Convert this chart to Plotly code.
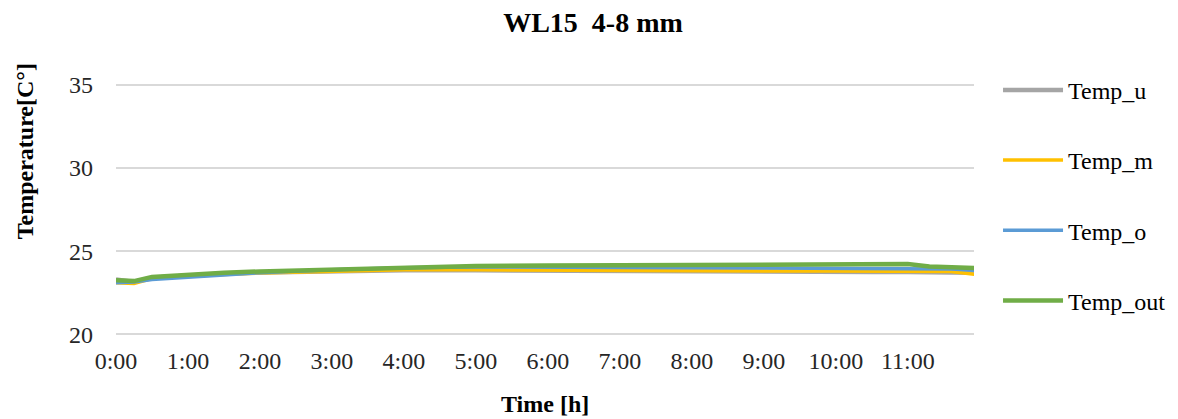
import plotly.graph_objects as go

hours = [0, 0.25, 0.5, 1, 1.5, 2, 3, 4, 5, 6, 7, 8, 9, 10, 10.5, 11, 11.3, 11.6, 11.95]
temp_u = [23.3, 23.15, 23.4, 23.55, 23.65, 23.72, 23.8, 23.85, 23.85, 23.82, 23.8, 23.78, 23.75, 23.75, 23.75, 23.75, 23.75, 23.74, 23.7]
temp_m = [23.1, 23.05, 23.35, 23.5, 23.6, 23.68, 23.8, 23.88, 23.88, 23.85, 23.85, 23.82, 23.8, 23.8, 23.8, 23.8, 23.8, 23.78, 23.6]
temp_o = [23.1, 23.15, 23.3, 23.45, 23.58, 23.7, 23.88, 24.0, 24.05, 24.05, 24.03, 24.0, 23.98, 23.97, 23.96, 23.96, 23.95, 23.93, 23.85]
temp_out = [23.25, 23.2, 23.45, 23.6, 23.7, 23.78, 23.9, 24.02, 24.1, 24.13, 24.15, 24.18, 24.2, 24.22, 24.22, 24.22, 24.08, 24.05, 23.98]

tick_vals = list(range(0, 12))
tick_text = [f"{h}:00" for h in tick_vals]
y_ticks = [20, 25, 30, 35]

series = [
    ("Temp_u", temp_u, "#a5a5a5"),
    ("Temp_m", temp_m, "#ffc000"),
    ("Temp_o", temp_o, "#5b9bd5"),
    ("Temp_out", temp_out, "#70ad47"),
]

fig = go.Figure()
for i, (name, vals, color) in enumerate(series):
    fig.add_trace(go.Scatter(
        x=hours, y=vals, name=name, mode="lines",
        line=dict(color=color, width=4.5 if name in ("Temp_u", "Temp_out") else 3.5),
        legendgroup=f"g{i}",
    ))

font_family = "Liberation Serif, Times New Roman, serif"
fs = 24
# page body has an 8px margin, so the figure is offset by 8px
W, H = 1170, 411
PH = 253  # plot height in px for y range 19.9..35.1
fig.update_layout(
    width=W, height=H,
    margin=dict(l=108, r=204, t=75, b=H - 75 - PH, autoexpand=False),
    paper_bgcolor="white", plot_bgcolor="white",
    font=dict(family=font_family, size=fs, color="#262626"),
    title=dict(text="<b>WL15  4-8 mm</b>", x=0.5, xanchor="center", xref="container",
               y=1 - 14 / H, yanchor="middle",
               font=dict(family=font_family, size=28, color="#000000")),
    showlegend=True,
    legend=dict(x=1.028, xanchor="left", y=1.06, yanchor="top", xref="paper",
                font=dict(family=font_family, size=fs, color="#000000"),
                tracegroupgap=36, bgcolor="rgba(0,0,0,0)", maxheight=400,
                itemwidth=60),
    xaxis=dict(range=[0, 11.92], tickmode="array", tickvals=tick_vals, ticktext=tick_text,
               showgrid=False, zeroline=False, showline=False, ticks="", automargin=False,
               ticklabelstandoff=8, tickfont=dict(color="#262626")),
    yaxis=dict(range=[19.9, 35.1], tickmode="array", tickvals=y_ticks,
               showgrid=True, gridcolor="#d9d9d9", gridwidth=1.5, zeroline=False, showline=False, ticks="",
               automargin=False, ticklabelstandoff=22),
    annotations=[
        dict(text="<b>Time [h]</b>", x=0.5, xref="paper", y=-(405 - 336.7) / PH, yref="paper",
             xanchor="center", yanchor="middle", showarrow=False,
             font=dict(family=font_family, size=fs, color="#000000")),
        dict(text="<b>Temperature[C°]</b>", x=-(116 - 25) / 858, xref="paper",
             y=(336.7 - 152) / PH, yref="paper", textangle=-90,
             xanchor="center", yanchor="middle", showarrow=False,
             font=dict(family=font_family, size=fs, color="#000000")),
    ],
)

fig.write_html("out.html")
